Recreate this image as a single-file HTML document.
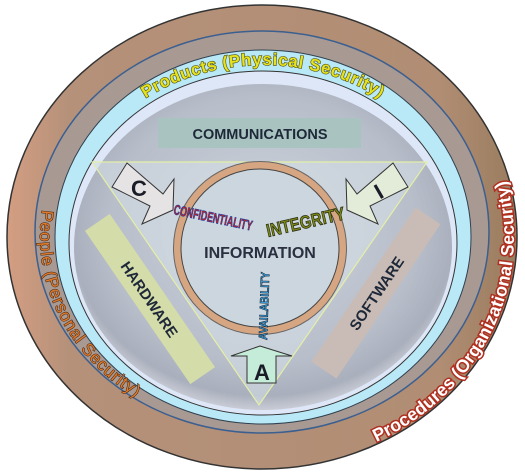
<!DOCTYPE html>
<html><head><meta charset="utf-8"><style>
html,body{margin:0;padding:0;background:#fff;}
svg{display:block;}
text{font-family:"Liberation Sans",sans-serif;}
</style></head><body>
<svg width="525" height="475" viewBox="0 0 525 475" xmlns="http://www.w3.org/2000/svg">
<defs>
<radialGradient id="disc" cx="50%" cy="45%" r="55%">
<stop offset="0" stop-color="#cfd6de"/><stop offset="0.75" stop-color="#b7bdc9"/><stop offset="0.92" stop-color="#a9afbc"/><stop offset="1" stop-color="#c9ccd6"/>
</radialGradient>
<linearGradient id="brown" x1="0" y1="0" x2="1" y2="0">
<stop offset="0" stop-color="#d49e82"/><stop offset="0.12" stop-color="#b5917a"/><stop offset="0.85" stop-color="#b08d73"/><stop offset="1" stop-color="#9a7c5e"/>
</linearGradient>
<path id="pProd" d="M64,238 A199,173 0 0 1 462,238"/>
<path id="pPeople" d="M262,40 A222,196 0 0 0 262,432"/>
<path id="pProc" d="M262,467 A252,230 0 0 0 262,7"/>
</defs>

<ellipse cx="262" cy="237" rx="255" ry="232" fill="url(#brown)" stroke="#333" stroke-width="1.5"/>
<ellipse cx="262" cy="232" rx="227" ry="201" fill="#a89a93" stroke="#3b5f90" stroke-width="1.5"/>
<ellipse cx="263" cy="237" rx="208" ry="187" fill="#b9e8f7" stroke="#2f4050" stroke-width="1"/>
<ellipse cx="263" cy="243" rx="194" ry="172" fill="#dde7f7" stroke="#333" stroke-width="1"/>
<ellipse cx="263" cy="247" rx="189" ry="163" fill="url(#disc)"/>

<text font-size="17" font-weight="bold" fill="#e6e21e" stroke="#4a4a10" stroke-width="1.2" paint-order="stroke" letter-spacing="0.6"><textPath href="#pProd" startOffset="50%" text-anchor="middle">Products (Physical Security)</textPath></text>
<text font-size="17" fill="#e07a2a" stroke="#3a2010" stroke-width="1" paint-order="stroke" letter-spacing="0.8"><textPath href="#pPeople" startOffset="302">People (Personal Security)</textPath></text>
<text font-size="18" font-weight="bold" fill="#ffffff" stroke="#b03020" stroke-width="3" paint-order="stroke" textLength="318" lengthAdjust="spacingAndGlyphs"><textPath href="#pProc" startOffset="118">Procedures (Organizational Security)</textPath></text>

<rect x="158" y="118" width="203" height="30" fill="#a9c4c0"/>
<text x="260" y="139" font-size="14.5" font-weight="bold" fill="#1e2838" text-anchor="middle">COMMUNICATIONS</text>

<g transform="translate(150,299) rotate(55.5)">
<rect x="-93" y="-15" width="186" height="30" fill="#d4dcaa"/>
<text x="0" y="6" font-size="15" font-weight="bold" fill="#1e2838" text-anchor="middle">HARDWARE</text>
</g>
<g transform="translate(376,293) rotate(-56)">
<rect x="-93" y="-15" width="186" height="30" fill="#c9bcb6"/>
<text x="0" y="6" font-size="15" font-weight="bold" fill="#1e2838" text-anchor="middle">SOFTWARE</text>
</g>

<polygon points="92,162 427,162 259,405" fill="#d3dde5" fill-opacity="0.6" stroke="#e4efa6" stroke-width="1.2"/>

<circle cx="260" cy="248" r="87" fill="#666" />
<circle cx="260" cy="248" r="86" fill="#d6a682"/>
<circle cx="260" cy="248" r="79.5" fill="#444"/>
<circle cx="260" cy="248" r="78.5" fill="#ccd6de"/>
<text x="260" y="258" font-size="16" font-weight="bold" fill="#2a3040" text-anchor="middle">INFORMATION</text>

<polygon points="127,163 163,194 174,179 173,210 142,224 150,206 112,187" fill="#e5e3e3" stroke="#333" stroke-width="1"/>
<text x="139" y="196" font-size="22" font-weight="bold" fill="#1a1d28" text-anchor="middle">C</text>
<polygon points="393,163 357,194 346,179 347,210 378,224 370,206 408,187" fill="#e3ecd9" stroke="#333" stroke-width="1"/>
<text x="379" y="199" font-size="22" font-weight="bold" fill="#1a1d28" text-anchor="middle" transform="rotate(-30 379 192)">I</text>
<polygon points="260,346 292,356 276,356 276,383 247,383 247,356 231,356" fill="#c4ecd8" stroke="#333" stroke-width="1"/>
<text x="262" y="380" font-size="22" font-weight="bold" fill="#1a1d28" text-anchor="middle">A</text>

<text font-size="10" font-weight="bold" fill="#c42020" stroke="#2040a0" stroke-width="0.5" transform="translate(173,214) rotate(12) scale(1,1.4)" textLength="80" lengthAdjust="spacingAndGlyphs">CONFIDENTIALITY</text>
<text font-size="14" font-weight="bold" fill="#7a8a18" stroke="#2a2a10" stroke-width="0.6" transform="translate(268,237) rotate(-13) scale(1,1.3)" textLength="80" lengthAdjust="spacingAndGlyphs">INTEGRITY</text>
<text font-size="12" font-weight="bold" fill="#3aa4e4" stroke="#102030" stroke-width="0.6" transform="translate(267,340) rotate(-88)" textLength="68" lengthAdjust="spacingAndGlyphs">AVAILABILITY</text>
</svg>
</body></html>
